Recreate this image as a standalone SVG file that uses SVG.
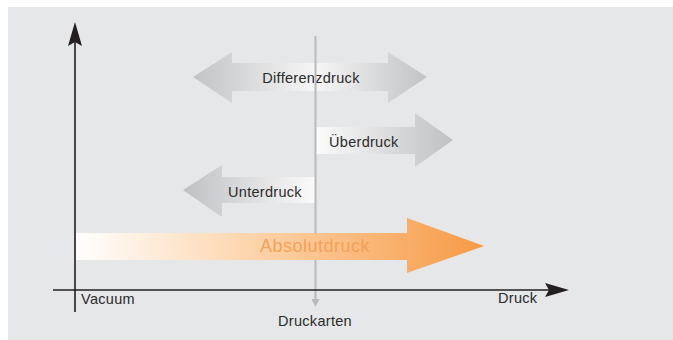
<svg xmlns="http://www.w3.org/2000/svg" width="673" height="340" viewBox="0 0 673 340">
<style>
.t{font-family:"Liberation Sans",Arial,sans-serif;font-size:14.5px;fill:#2b2b2b;letter-spacing:0.3px}
.axis{stroke:#231f20;stroke-width:1.6;fill:none}
</style>
<defs>
<linearGradient id="gDiff" x1="193" y1="0" x2="427" y2="0" gradientUnits="userSpaceOnUse">
<stop offset="0" stop-color="#c2c3c5"/>
<stop offset="0.52" stop-color="#f6f6f6"/>
<stop offset="1" stop-color="#c2c3c5"/>
</linearGradient>
<linearGradient id="gUeber" x1="316" y1="0" x2="453" y2="0" gradientUnits="userSpaceOnUse">
<stop offset="0" stop-color="#fbfbfb"/>
<stop offset="1" stop-color="#bfc0c2"/>
</linearGradient>
<linearGradient id="gUnter" x1="316" y1="0" x2="183" y2="0" gradientUnits="userSpaceOnUse">
<stop offset="0" stop-color="#fbfbfb"/>
<stop offset="1" stop-color="#bfc0c2"/>
</linearGradient>
<linearGradient id="gAbs" x1="76" y1="0" x2="484" y2="0" gradientUnits="userSpaceOnUse">
<stop offset="0" stop-color="#ffffff"/>
<stop offset="0.45" stop-color="#fdd2a8"/>
<stop offset="1" stop-color="#f69a45"/>
</linearGradient>
</defs>
<rect x="8" y="7" width="665" height="333" fill="#e6e7e8"/>

<g id="differenzdruck">
<path d="M193,77 L232,52 L232,63 L388,63 L388,52 L427,77 L388,103 L388,91 L232,91 L232,103 Z" fill="url(#gDiff)"/>
<text class="t" x="311" y="83" text-anchor="middle">Differenzdruck</text>
</g>
<g id="ueberdruck">
<path d="M316,127 L415,127 L415,113 L453,140 L415,167 L415,154 L316,154 Z" fill="url(#gUeber)"/>
<text class="t" x="329" y="147">Überdruck</text>
</g>
<g id="unterdruck">
<path d="M316,177 L222,177 L222,165 L183,190 L222,217 L222,203 L316,203 Z" fill="url(#gUnter)"/>
<text class="t" x="228" y="197">Unterdruck</text>
</g>

<g id="connectors">
<line x1="315.5" y1="36" x2="315.5" y2="302" stroke="#b8b9bb" stroke-width="2"/>
<path d="M311.5,299 L319.5,299 L315.5,307 Z" fill="#b8b9bb"/>
<line class="axis" x1="75" y1="40" x2="75" y2="312"/>
<path d="M75,22 L82,46 L75,42 L68,46 Z" fill="#231f20"/>
<line class="axis" x1="53" y1="290" x2="552" y2="290"/>
<path d="M569,290 L545,297 L549,290 L545,283 Z" fill="#231f20"/>
</g>

<g id="absolutdruck">
<path d="M76,233 L407,233 L407,218 L484,246 L407,273 L407,260 L76,260 Z" fill="url(#gAbs)"/>
<text x="315" y="252" text-anchor="middle" style="font-family:'Liberation Sans',Arial,sans-serif;font-size:18px;fill:#f5a057;letter-spacing:0.5px">Absolutdruck</text>
</g>

<g id="vacuum"><text class="t" x="81" y="304">Vacuum</text></g>
<g id="druck"><text class="t" x="498" y="303">Druck</text></g>
<g id="druckarten"><text class="t" x="315" y="326" text-anchor="middle">Druckarten</text></g>
</svg>
